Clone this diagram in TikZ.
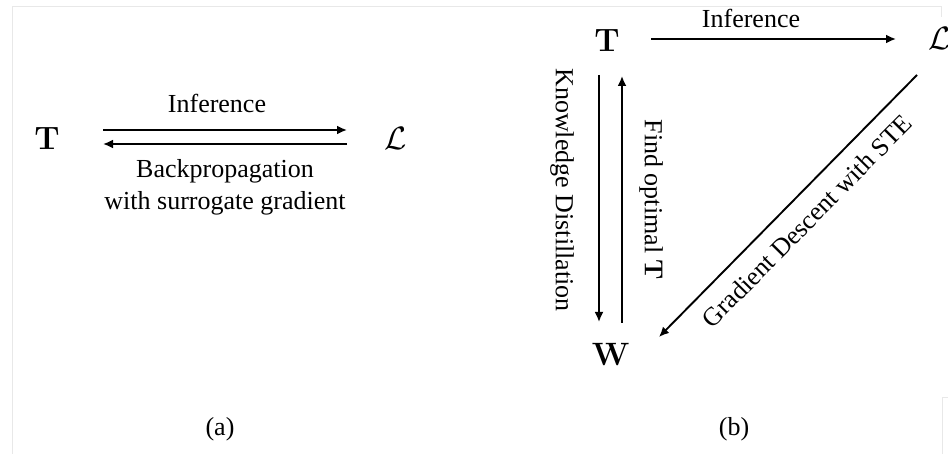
\documentclass[tikz,border=0pt]{standalone}
\usepackage{fix-cm}
\usepackage[no-math]{fontspec}
\setmainfont{Liberation Serif}
\usetikzlibrary{arrows.meta}
\tikzset{
  txt/.style={font=\fontsize{26}{32}\selectfont, inner sep=0pt, outer sep=0pt},
  sym/.style={font=\fontsize{24.88}{30}\selectfont, scale=1.3, transform shape,
              inner sep=0pt, outer sep=0pt},
  arr/.style={-{Latex[length=10pt,width=9pt]}, line width=1.9pt},
  frame/.style={draw=black!9, line width=0.8pt}
}
\begin{document}
\begin{tikzpicture}[x=1pt,y=-1pt]
  \useasboundingbox (0,0) rectangle (948,454);
  % faint page frame
  \draw[frame] (12,454) -- (12,6) -- (941,6) -- (941,17);
  \draw[frame] (948,397) -- (942,397) -- (942,454);

  % ---- (a) ----
  \node[sym] (Ta) at (47,138.5) {$\mathbf{T}$};
  \node[sym] (La) at (396,138.5) {$\mathcal{L}$};
  \draw[arr] ([xshift=56pt,yshift=8.5pt]Ta.center) -- ([xshift=-49pt,yshift=8.5pt]La.center);
  \draw[arr] ([xshift=-49pt,yshift=-5.5pt]La.center) -- ([xshift=56pt,yshift=-5.5pt]Ta.center);
  \node[txt] (infa) at (217,103) {Inference};
  \node[txt, anchor=base] (bp1) at (225,178) {Backpropagation};
  \node[txt, anchor=base] (bp2) at (225,210) {with surrogate gradient};
  \node[txt] (capa) at (220,429) {(a)};

  % ---- (b) ----
  \node[sym] (Tb) at (607,40) {$\mathbf{T}$};
  \node[sym] (Lb) at (940,38) {$\mathcal{L}$};
  \node[sym] (Wb) at (611,354) {$\mathbf{W}$};
  \draw[arr] ([xshift=44pt,yshift=1pt]Tb.center) -- ([xshift=-44pt,yshift=-1pt]Lb.center);
  \draw[arr] ([xshift=-8pt,yshift=-35pt]Tb.center) -- ([xshift=-12pt,yshift=32pt]Wb.center);
  \draw[arr] ([xshift=11pt,yshift=31pt]Wb.center) -- ([xshift=15pt,yshift=-36pt]Tb.center);
  \draw[arr] ([xshift=-23pt,yshift=-37pt]Lb.center) -- ([xshift=48pt,yshift=17pt]Wb.center);
  \node[txt] (infb) at (751,18.5) {Inference};
  \node[txt, rotate=-90] (kd) at (562,190) {Knowledge Distillation};
  \node[txt, rotate=-90] (fo) at (651,200) {Find optimal $\mathbf{T}$};
  \node[txt, rotate=45.4] (gd) at (807,221) {Gradient Descent with STE};
  \node[txt] (capb) at (734,429) {(b)};
\end{tikzpicture}
\end{document}
